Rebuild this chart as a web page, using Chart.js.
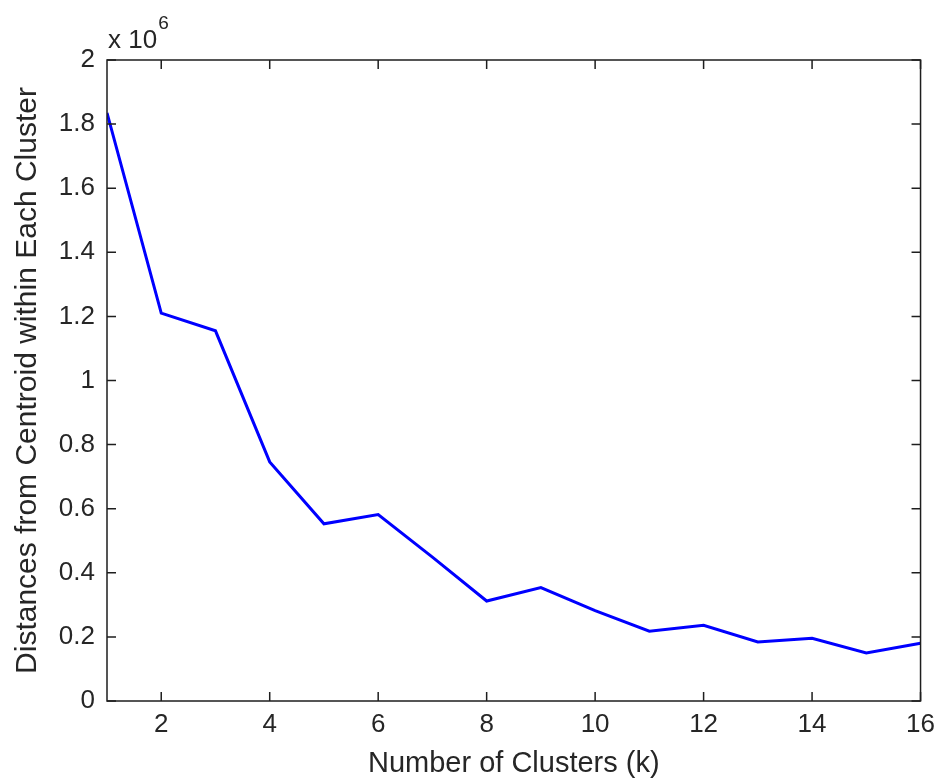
<!DOCTYPE html>
<html>
<head>
<meta charset="utf-8">
<script src="https://cdn.jsdelivr.net/npm/chart.js@4/dist/chart.umd.min.js"></script>
<style>
  html, body { margin: 0; padding: 0; background: #fff; }
  #wrap { width: 943px; height: 782px; }
</style>
</head>
<body>
<div id="wrap"><canvas id="c" width="943" height="782"></canvas></div>
<script>
const clusters = [1, 2, 3, 4, 5, 6, 7, 8, 9, 10, 11, 12, 13, 14, 15, 16];
const distances = [1835000, 1210000, 1155000, 746000, 553000, 582000, 449000, 312000, 354000, 282000, 218000, 236000, 184000, 196000, 150000, 180000];
const xTickValues = [2, 4, 6, 8, 10, 12, 14, 16];
const yTickValues = [0, 200000, 400000, 600000, 800000, 1000000, 1200000, 1400000, 1600000, 1800000, 2000000];
const xTitle = 'Number of Clusters (k)';
const yTitle = 'Distances from Centroid within Each Cluster';

const FONT = 'Liberation Sans, Arial, sans-serif';
const TEXT = '#262626';

const boxPlugin = {
  id: 'boxPlugin',
  afterDatasetsDraw(chart) {
    const {ctx, chartArea: a, scales} = chart;
    ctx.save();
    ctx.strokeStyle = '#1e1e1e';
    ctx.lineWidth = 1.5;
    ctx.strokeRect(a.left, a.top, a.right - a.left, a.bottom - a.top);
    const L = 9;
    ctx.beginPath();
    scales.x.ticks.forEach(t => {
      const px = scales.x.getPixelForValue(t.value);
      ctx.moveTo(px, a.bottom); ctx.lineTo(px, a.bottom - L);
      ctx.moveTo(px, a.top); ctx.lineTo(px, a.top + L);
    });
    scales.y.ticks.forEach(t => {
      const py = scales.y.getPixelForValue(t.value);
      ctx.moveTo(a.left, py); ctx.lineTo(a.left + L, py);
      ctx.moveTo(a.right, py); ctx.lineTo(a.right - L, py);
    });
    ctx.stroke();
    // exponent label
    ctx.fillStyle = TEXT;
    ctx.textBaseline = 'alphabetic';
    ctx.textAlign = 'left';
    ctx.font = '26px ' + FONT;
    const base = 'x 10';
    ctx.fillText(base, a.left + 1, a.top - 12);
    const w = ctx.measureText(base).width;
    ctx.font = '19px ' + FONT;
    ctx.fillText('6', a.left + 1 + w + 1, a.top - 31);
    ctx.restore();
  }
};

new Chart(document.getElementById('c'), {
  type: 'line',
  data: {
    datasets: [{
      data: clusters.map((k, i) => ({x: k, y: distances[i]})),
      borderColor: '#0000ff',
      borderWidth: 3,
      pointRadius: 0,
      tension: 0,
      fill: false
    }]
  },
  options: {
    responsive: false,
    animation: false,
    events: [],
    layout: { padding: { top: 60, right: 22, left: 0, bottom: 0 } },
    plugins: { legend: { display: false }, tooltip: { enabled: false } },
    scales: {
      x: {
        type: 'linear',
        min: 1, max: 16,
        afterBuildTicks: s => { s.ticks = xTickValues.map(v => ({value: v})); },
        afterFit: s => { s.height = 81; },
        grid: { display: false, drawTicks: false },
        border: { display: false },
        ticks: { padding: 8, color: TEXT, font: { family: FONT, size: 26 }, maxRotation: 0, autoSkip: false,
                 callback: v => String(v) },
        title: { display: true, text: xTitle, color: TEXT, font: { family: FONT, size: 29 }, padding: { top: 0, bottom: 1 } }
      },
      y: {
        type: 'linear',
        min: 0, max: 2000000,
        afterBuildTicks: s => { s.ticks = yTickValues.map(v => ({value: v})); },
        afterFit: s => { s.width = 107; },
        grid: { display: false, drawTicks: false },
        border: { display: false },
        ticks: { padding: 12, color: TEXT, font: { family: FONT, size: 26 }, autoSkip: false,
                 callback: v => String(+(v / 1e6).toFixed(1)) },
        title: { display: true, text: yTitle, color: TEXT, font: { family: FONT, size: 30 }, padding: { top: 10, bottom: 0 } }
      }
    }
  },
  plugins: [boxPlugin]
});
</script>
</body>
</html>
